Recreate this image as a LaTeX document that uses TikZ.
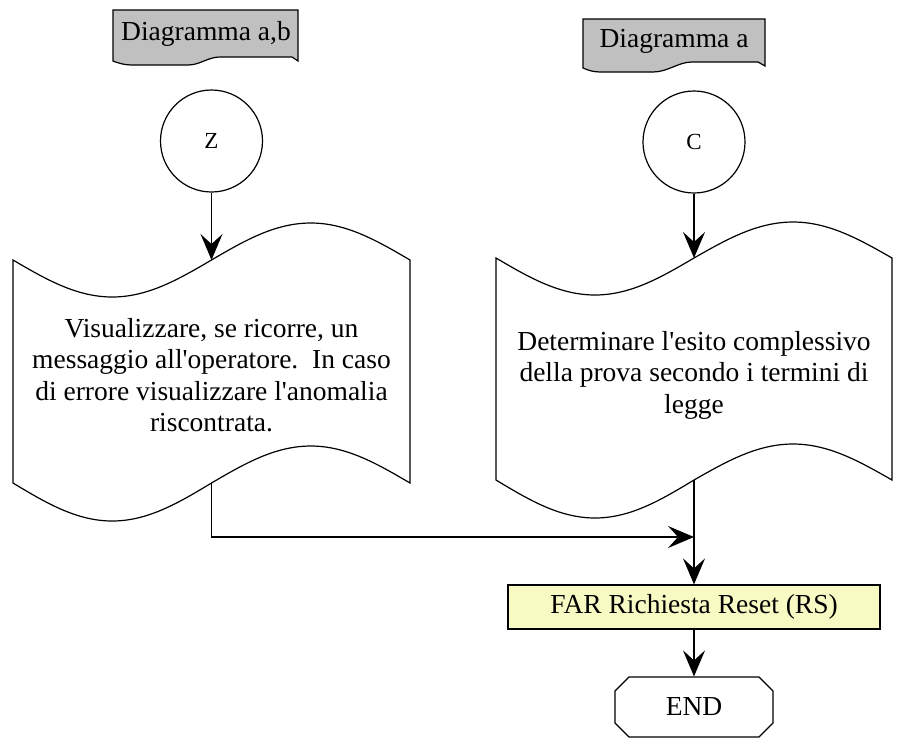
\documentclass[tikz,border=0pt]{standalone}
\usepackage{fontspec}
\setmainfont{Liberation Serif}
\usetikzlibrary{arrows.meta,shapes.misc}
\definecolor{bannergray}{RGB}{192,192,192}
\definecolor{faryellow}{RGB}{248,250,196}
\tikzset{
  base/.style={line width=1.2pt},
  arr/.style={base,-{Stealth[length=26pt,width=22pt,inset=10pt]}},
  conn/.style={circle,draw,base,minimum size=102pt,inner sep=0pt,font=\fontsize{23}{25}\selectfont},
  doctext/.style={align=center,font=\fontsize{27.5}{31.5}\selectfont,inner sep=0pt},
  bantext/.style={font=\fontsize{27.5}{31.5}\selectfont,inner sep=0pt},
  procbox/.style={draw,base,fill=faryellow,minimum width=372pt,minimum height=44pt,inner sep=0pt,font=\fontsize{27.5}{31.5}\selectfont},
  endbox/.style={draw,base,chamfered rectangle,chamfered rectangle xsep=7pt,chamfered rectangle ysep=7pt,minimum width=158pt,minimum height=60pt,inner sep=0pt,font=\fontsize{27.5}{31.5}\selectfont}
}
\begin{document}
\begin{tikzpicture}[x=1pt,y=-1pt]
\useasboundingbox (0,0) rectangle (912,740);
\fill[white] (0,0) rectangle (912,740);

% banners
\draw[base,fill=bannergray] (113,10) -- (298,10) -- (298,61) -- (292,57) -- (220,57)
  .. controls (208,57) and (200,65) .. (188,65) -- (133,65) .. controls (124,65) and (118,63) .. (113,61) -- cycle;
\node[bantext] (b1) at (206,34) {Diagramma a,b};
\draw[base,fill=bannergray] (583,19) -- (765,19) -- (765,66) -- (758,62) -- (692,62)
  .. controls (678,62) and (668,72) .. (653,72) -- (602,72) .. controls (592,72) and (588,70) .. (583,68) -- cycle;
\node[bantext] (b2) at (674,41) {Diagramma a};

% connectors (circles)
\node[conn] (Z) at (211.5,141) {Z};
\node[conn] (C) at (694,142) {C};

% left document
\draw[base,fill=white] (13,260) sin (112.25,297) cos (211.5,260) sin (310.75,223) cos (410,260)
  -- (410,483) sin (310.75,446) cos (211.5,483) sin (112.25,521) cos (13,483) -- cycle;
\coordinate (dlt) at (211.5,260);
\coordinate (dlb) at (211.5,483);
\node[doctext] (dl) at (211.5,375) {Visualizzare, se ricorre, un\\messaggio all\textquotesingle operatore.\ \ In caso\\di errore visualizzare l\textquotesingle anomalia\\riscontrata.};

% right document
\draw[base,fill=white] (496,258) sin (595,295) cos (694,258) sin (793,222) cos (892,258)
  -- (892,480) sin (793,444) cos (694,480) sin (595,518) cos (496,480) -- cycle;
\coordinate (drt) at (694,258);
\coordinate (drb) at (694,480);
\node[doctext] (dr) at (694,375) {Determinare l\textquotesingle esito complessivo\\della prova secondo i termini di\\legge};

% process and end
\node[procbox] (far) at (694,607) {FAR Richiesta Reset (RS)};
\node[endbox] (end) at (694,707) {END};
\coordinate (join) at (694,537);

% arrows
\draw[arr] (Z) -- (dlt);
\draw[arr] (C) -- (drt);
\draw[arr] (dlb) |- (join);
\draw[arr] (drb) -- (far.north);
\draw[arr] (far) -- (end);
\end{tikzpicture}
\end{document}
